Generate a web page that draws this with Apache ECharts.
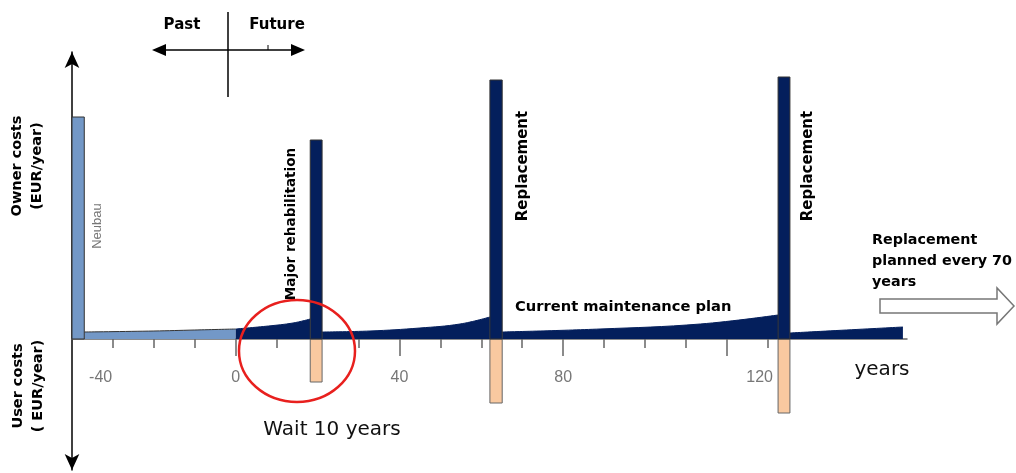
<!DOCTYPE html>
<html>
<head>
<meta charset="utf-8">
<script src="https://cdn.jsdelivr.net/npm/echarts@6/dist/echarts.min.js"></script>
<style>
  html, body { margin: 0; padding: 0; background: #fff; }
  #main { width: 1016px; height: 473px; }
</style>
</head>
<body>
<div id="main"></div>
<script>
// years on the x axis, costs in arbitrary units (owner up, user down)
var ownerBars = [
  // [startYear, endYear, cost]
  [-40, -37, 222],
  [18.2, 21.1, 199],
  [62.1, 65.1, 259],
  [132.5, 135.4, 262]
];
var barNames = ['Neubau', 'Major rehabilitation', 'Replacement', 'Replacement'];
var userBars = [
  [18.2, 21.1, -43],
  [62.1, 65.1, -64],
  [132.5, 135.4, -74]
];
// yearly maintenance (owner) before today
var pastMaintenance = [[-37, 7], [-20, 8], [-10, 9], [0, 10]];
// yearly maintenance after today, one run per cycle (null = break)
var futureMaintenance = [
  [0, 10], [8, 13], [14, 16], [18.2, 20], null,
  [21.1, 7], [32.8, 8], [45, 11], [54.8, 15], [62.1, 22], null,
  [65.1, 7], [89, 10], [113.5, 15], [132.5, 24], null,
  [135.4, 6], [163, 12]
];
// where the year labels sit in the figure, and their text
var tickLabelAt = [-33, 0, 40, 80, 128];
var tickLabels = ['-40', '0', '40', '80', '120'];
var minorTicks = [-30, -20, -10, 10, 20, 30, 50, 60, 70, 90, 100, 110, 130];
var majorTicks = [0, 40, 80, 120];

var LIGHT = '#7398c7';
var DARK = '#041f5c';
var PEACH = '#f9c9a0';
var BOLD = 'DejaVu Sans';

var myChart = echarts.init(document.getElementById('main'));

function rectItem(fill, stroke) {
  return function (params, api) {
    var p0 = api.coord([api.value(0), api.value(2)]);
    var p1 = api.coord([api.value(1), 0]);
    var color = fill;
    if (fill === 'owner') {
      color = params.dataIndex === 0 ? LIGHT : DARK;
    }
    return {
      type: 'rect',
      shape: {
        x: p0[0], y: Math.min(p0[1], p1[1]),
        width: p1[0] - p0[0], height: Math.abs(p1[1] - p0[1])
      },
      style: { fill: color, stroke: stroke, lineWidth: 1 }
    };
  };
}

function vText(x, y, text, opts) {
  opts = opts || {};
  return {
    type: 'text', x: x, y: y, rotation: Math.PI / 2,
    style: {
      text: text, fill: opts.color || '#000',
      font: (opts.weight || 'bold') + ' ' + (opts.size || 14) + 'px ' + (opts.family || BOLD),
      align: 'center', verticalAlign: 'middle', lineHeight: opts.lh || 18
    }
  };
}

var option = {
  animation: false,
  grid: { left: 72, right: 109, top: 52, bottom: 3, outerBoundsMode: 'none', containLabel: false },
  xAxis: [{
    type: 'value',
    min: -40,
    max: 164,
    splitLine: { show: false },
    axisLine: { onZero: true, onZeroAxisIndex: 0, lineStyle: { color: '#666', width: 1.5 } },
    axisTick: { customValues: minorTicks, length: 9, lineStyle: { color: '#666', width: 1.5 } },
    axisLabel: { show: false }
  }, {
    type: 'value',
    min: -40,
    max: 164,
    position: 'bottom',
    splitLine: { show: false },
    axisLine: { show: false, onZero: true, onZeroAxisIndex: 0 },
    axisTick: { customValues: majorTicks, length: 17, lineStyle: { color: '#666', width: 1.5 } },
    axisLabel: { show: false }
  }],
  yAxis: {
    type: 'value',
    min: -131,
    max: 287,
    splitLine: { show: false },
    axisLabel: { show: false },
    axisTick: { show: false },
    axisLine: {
      onZero: false,
      symbol: ['arrow', 'arrow'],
      symbolSize: [11, 16],
      lineStyle: { color: '#000', width: 1.5 }
    }
  },
  series: [
    {
      type: 'custom',
      name: 'user costs',
      renderItem: rectItem(PEACH, '#666'),
      data: userBars,
      z: 3
    },
    {
      type: 'line',
      name: 'past maintenance',
      data: pastMaintenance,
      smooth: 0.4,
      symbol: 'none',
      lineStyle: { color: '#333', width: 1 },
      areaStyle: { color: LIGHT, opacity: 1 },
      z: 4
    },
    {
      type: 'line',
      name: 'future maintenance',
      data: futureMaintenance,
      smooth: 0.4,
      connectNulls: false,
      symbol: 'none',
      lineStyle: { color: DARK, width: 1 },
      areaStyle: { color: DARK, opacity: 1 },
      z: 4
    },
    {
      type: 'custom',
      name: 'owner costs',
      renderItem: rectItem('owner', '#333'),
      data: ownerBars,
      z: 5
    }
  ]
};
myChart.setOption(option);

// year labels placed through the x scale
var zeroY = myChart.convertToPixel({ yAxisIndex: 0 }, 0);
var graphics = tickLabels.map(function (t, i) {
  return {
    type: 'text',
    x: myChart.convertToPixel({ xAxisIndex: 0 }, tickLabelAt[i]),
    y: zeroY + 39,
    style: { text: t, font: '16px "Liberation Sans"', fill: '#777', align: 'center', verticalAlign: 'middle' }
  };
});

graphics = graphics.concat([
  // past / future cross
  { type: 'line', shape: { x1: 160, y1: 50, x2: 296, y2: 50 }, style: { stroke: '#000', lineWidth: 1.5 } },
  { type: 'line', shape: { x1: 228, y1: 12, x2: 228, y2: 97 }, style: { stroke: '#000', lineWidth: 1.5 } },
  { type: 'line', shape: { x1: 268, y1: 45, x2: 268, y2: 50 }, style: { stroke: '#000', lineWidth: 1 } },
  { type: 'polygon', shape: { points: [[152, 50], [166, 44], [166, 56]] }, style: { fill: '#000' } },
  { type: 'polygon', shape: { points: [[305, 50], [291, 44], [291, 56]] }, style: { fill: '#000' } },
  { type: 'text', x: 182, y: 25, style: { text: 'Past', font: 'bold 15px ' + BOLD, align: 'center', verticalAlign: 'middle', fill: '#000' } },
  { type: 'text', x: 277, y: 25, style: { text: 'Future', font: 'bold 15px ' + BOLD, align: 'center', verticalAlign: 'middle', fill: '#000' } },
  // axis titles
  vText(27, 166, 'Owner costs\n(EUR/year)', { lh: 20, size: 14.5 }),
  vText(28, 386, 'User costs\n( EUR/year)', { lh: 20, size: 14.5 }),
  // event labels
  vText(97, 226, barNames[0], { weight: 'normal', size: 13, color: '#777', family: 'Liberation Sans' }),
  vText(291, 224, barNames[1], { size: 13.6 }),
  vText(523, 166, barNames[2], { size: 15 }),
  vText(808, 166, barNames[3], { size: 15 }),
  { type: 'text', x: 515, y: 307, z: 50, style: { text: 'Current maintenance plan', font: 'bold 14.7px ' + BOLD, align: 'left', verticalAlign: 'middle', fill: '#000' } },
  { type: 'text', x: 872, y: 261, style: { text: 'Replacement\nplanned every 70\nyears', font: 'bold 14.3px ' + BOLD, lineHeight: 21, align: 'left', verticalAlign: 'middle', fill: '#000' } },
  { type: 'polygon', shape: { points: [[880, 299], [997, 299], [997, 288], [1014, 306], [997, 324], [997, 313], [880, 313]] }, style: { fill: '#fff', stroke: '#777', lineWidth: 1.5 } },
  { type: 'text', x: 882, y: 370, style: { text: 'years', font: '20px DejaVu Sans', align: 'center', verticalAlign: 'middle', fill: '#111' } },
  { type: 'text', x: 332, y: 430, style: { text: 'Wait 10 years', font: '20px DejaVu Sans', align: 'center', verticalAlign: 'middle', fill: '#111' } },
  { type: 'ellipse', z: 100, shape: { cx: 297, cy: 351, rx: 58, ry: 51 }, style: { fill: 'none', stroke: '#e8201e', lineWidth: 2.5 } }
]);
myChart.setOption({ graphic: graphics });
</script>
</body>
</html>
